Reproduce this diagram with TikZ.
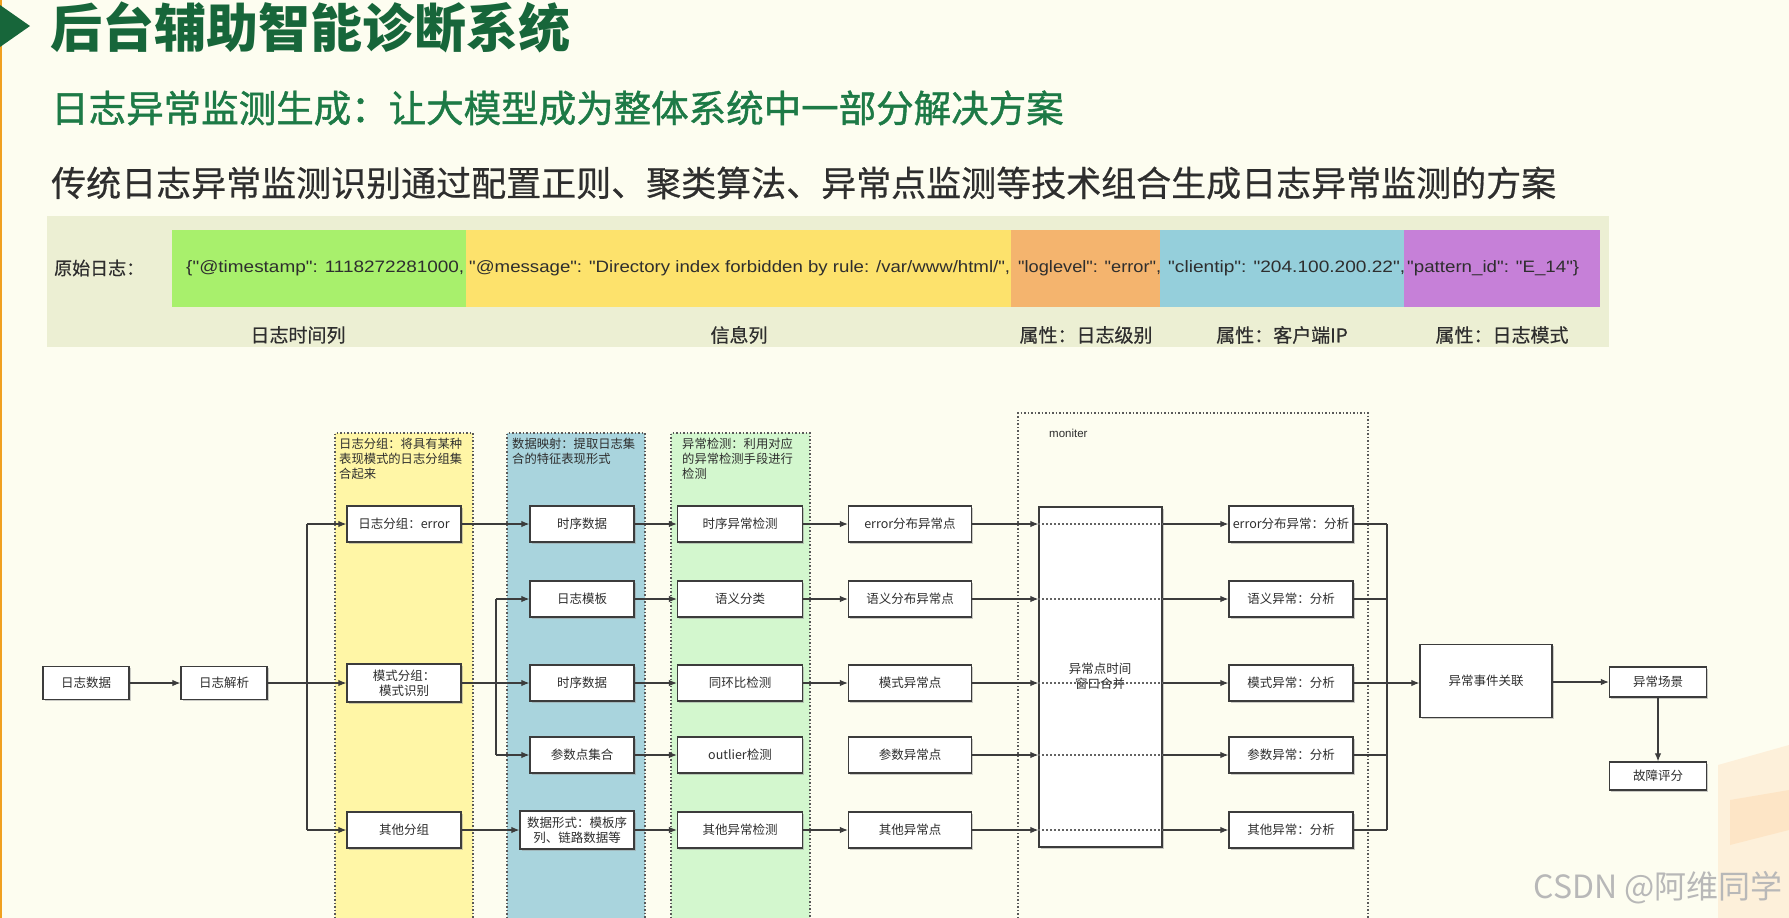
\documentclass[tikz,border=0pt]{standalone}
\usepackage{fontspec}
\usepackage{graphicx}
\setmainfont{Noto Sans CJK SC}
\newfontfamily\cjkmid[FakeBold=1.2]{Noto Sans CJK SC}
\newfontfamily\cjklight[FakeBold=0.5]{Noto Sans CJK SC}
\newfontfamily\jsonfont{Liberation Sans}
\newfontfamily\latinsans{Liberation Sans}
\usetikzlibrary{arrows.meta,shadows}
\definecolor{bg}{HTML}{FDFDF0}
\definecolor{barbg}{HTML}{ECEFD3}
\definecolor{lgreen}{HTML}{A8F06C}
\definecolor{lyellow}{HTML}{FDE26C}
\definecolor{lorange}{HTML}{F4B46E}
\definecolor{lblue}{HTML}{95CFDB}
\definecolor{lpurple}{HTML}{C680D8}
\definecolor{titlegreen}{HTML}{17663A}
\definecolor{subgreen}{HTML}{1D7A46}
\definecolor{darktext}{HTML}{2E2E2E}
\definecolor{colyellow}{HTML}{FFF6A6}
\definecolor{colblue}{HTML}{A9D4DD}
\definecolor{colgreen}{HTML}{D3F7CE}
\definecolor{linec}{HTML}{3C3C3C}
\definecolor{edgeorange}{HTML}{F0A020}
\begin{document}
\begin{tikzpicture}[x=1pt,y=-1pt,
  nodefont/.style={font=\fontsize{12.5}{15}\selectfont},
  box/.style={draw=linec, line width=1.3pt, fill=white, inner sep=0pt, align=center,
    nodefont, text=darktext, minimum height=36pt,
    drop shadow={shadow xshift=1.5pt, shadow yshift=-1.5pt, fill=black!40, opacity=0.5}},
  gw/.style={minimum width=114pt},
  bw/.style={minimum width=104pt},
  cw/.style={minimum width=125pt},
  pw/.style={minimum width=123pt},
  aw/.style={minimum width=124pt},
  arr/.style={draw=linec, line width=1.1pt, -{Latex[length=8pt,width=6.5pt]}},
  ln/.style={draw=linec, line width=1.1pt},
  dotln/.style={draw=linec!80, line width=1.1pt, dash pattern=on 1.5pt off 2.5pt},
  colborder/.style={draw=linec!85, line width=1.2pt, dash pattern=on 1.5pt off 2pt},
  coltext/.style={anchor=north west, inner sep=0pt, align=left, text=darktext,
    font=\fontsize{12.3}{15}\selectfont},
  barlabel/.style={text=darktext, font=\cjklight\fontsize{19}{22}\selectfont, inner sep=0pt}
]
\useasboundingbox (0,0) rectangle (1789,918);
\fill[bg] (0,0) rectangle (1789,918);
\fill[edgeorange] (0,0) rectangle (2,918);
% decoration bottom right
\fill[orange!30, opacity=0.35] (1718,765) -- (1789,745) -- (1789,918) -- (1718,918) -- cycle;
\fill[orange!45, opacity=0.25] (1730,800) -- (1789,790) -- (1789,830) -- (1730,845) -- cycle;

% title
\fill[titlegreen] (0,5) -- (30,26) -- (0,47) -- cycle;
\node[anchor=west, inner sep=0pt, text=titlegreen, font=\fontsize{52}{60}\selectfont\bfseries] (title) at (50,27) {后台辅助智能诊断系统};
\node[anchor=west, inner sep=0pt, text=subgreen, font=\cjkmid\fontsize{37.5}{44}\selectfont] (sub) at (51,108) {日志异常监测生成：让大模型成为整体系统中一部分解决方案};
\node[anchor=west, inner sep=0pt, text=darktext, font=\cjklight\fontsize{35}{42}\selectfont] (line3) at (51,183) {传统日志异常监测识别通过配置正则、聚类算法、异常点监测等技术组合生成日志异常监测的方案};

% log bar
\fill[barbg] (47,216) rectangle (1609,347);
\fill[lgreen] (172,230) rectangle (466,307);
\fill[lyellow] (466,230) rectangle (1011,307);
\fill[lorange] (1011,230) rectangle (1160,307);
\fill[lblue] (1160,230) rectangle (1404,307);
\fill[lpurple] (1404,230) rectangle (1600,307);
\node[anchor=west, text=darktext, font=\cjklight\fontsize{18}{21}\selectfont, inner sep=0pt] (raw) at (54,268) {原始日志：};
\node[anchor=west, inner sep=0pt, text=darktext] (j1) at (186,268) {\resizebox{278pt}{\height}{\jsonfont\fontsize{16.5}{19}\selectfont \{"@timestamp": 1118272281000,}};
\node[anchor=west, inner sep=0pt, text=darktext] (j2) at (469,268) {\resizebox{541pt}{\height}{\jsonfont\fontsize{16.5}{19}\selectfont "@message": "Directory index forbidden by rule: /var/www/html/",}};
\node[anchor=west, inner sep=0pt, text=darktext] (j3) at (1018,268) {\resizebox{143pt}{\height}{\jsonfont\fontsize{16.5}{19}\selectfont "loglevel": "error",}};
\node[anchor=west, inner sep=0pt, text=darktext] (j4) at (1168,268) {\resizebox{237pt}{\height}{\jsonfont\fontsize{16.5}{19}\selectfont "clientip": "204.100.200.22",}};
\node[anchor=west, inner sep=0pt, text=darktext] (j5) at (1407,268) {\resizebox{172pt}{\height}{\jsonfont\fontsize{16.5}{19}\selectfont "pattern\_id": "E\_14"\}}};
\node[barlabel] (l1) at (298,335) {日志时间列};
\node[barlabel] (l2) at (739,335) {信息列};
\node[barlabel] (l3) at (1086,335) {属性：日志级别};
\node[barlabel] (l4) at (1282,335) {属性：客户端IP};
\node[barlabel] (l5) at (1502,335) {属性：日志模式};

% columns
\fill[colyellow] (335,433) rectangle (473,918);
\draw[colborder] (335,918) -- (335,433) -- (473,433) -- (473,918);
\fill[colblue] (507,433) rectangle (645,918);
\draw[colborder] (507,918) -- (507,433) -- (645,433) -- (645,918);
\fill[colgreen] (671,433) rectangle (810,918);
\draw[colborder] (671,918) -- (671,433) -- (810,433) -- (810,918);
\draw[colborder] (1018,918) -- (1018,413) -- (1368,413) -- (1368,918);
\node[coltext] (t1) at (339,438) {日志分组：将具有某种\\表现模式的日志分组集\\合起来};
\node[coltext] (t2) at (512,438) {数据映射：提取日志集\\合的特征表现形式};
\node[coltext] (t3) at (682,438) {异常检测：利用对应\\的异常检测手段进行\\检测};
\node[anchor=west, inner sep=0pt, text=darktext, font=\latinsans\fontsize{11.5}{13}\selectfont] (mon) at (1049,433) {moniter};

% nodes
\node[box, minimum width=86pt, minimum height=33pt] (d) at (86,683) {日志数据};
\node[box, minimum width=86pt, minimum height=33pt] (p) at (224,683) {日志解析};
\node[box, gw] (g1) at (404,524) {日志分组：error};
\node[box, gw, minimum height=38pt] (g2) at (404,683) {模式分组：\\模式识别};
\node[box, gw] (g3) at (404,830) {其他分组};

\node[box, bw] (b1) at (582,524) {时序数据};
\node[box, bw] (b2) at (582,599) {日志模板};
\node[box, bw] (b3) at (582,683) {时序数据};
\node[box, bw] (b4) at (582,755) {参数点集合};
\node[box, minimum width=114pt, minimum height=38pt] (b5) at (577,830) {数据形式：模板序\\列、链路数据等};

\node[box, cw] (c1) at (740,524) {时序异常检测};
\node[box, cw] (c2) at (740,599) {语义分类};
\node[box, cw] (c3) at (740,683) {同环比检测};
\node[box, cw] (c4) at (740,755) {outlier检测};
\node[box, cw] (c5) at (740,830) {其他异常检测};

\node[box, pw] (q1) at (910,524) {error分布异常点};
\node[box, pw] (q2) at (910,599) {语义分布异常点};
\node[box, pw] (q3) at (910,683) {模式异常点};
\node[box, pw] (q4) at (910,755) {参数异常点};
\node[box, pw] (q5) at (910,830) {其他异常点};

\node[box, minimum width=123pt, minimum height=340pt] (M) at (1100.5,677) {};
\node[inner sep=0pt, align=center, nodefont, text=darktext] (Mt) at (1100,676) {异常点时间\\窗口合并};

\node[box, aw] (a1) at (1291,524) {error分布异常：分析};
\node[box, aw] (a2) at (1291,599) {语义异常：分析};
\node[box, aw] (a3) at (1291,683) {模式异常：分析};
\node[box, aw] (a4) at (1291,755) {参数异常：分析};
\node[box, aw] (a5) at (1291,830) {其他异常：分析};

\node[box, minimum width=132pt, minimum height=73pt] (E) at (1486,681) {异常事件关联};
\node[box, minimum width=97pt, minimum height=30pt] (S) at (1658,682) {异常场景};
\node[box, minimum width=97pt, minimum height=28pt] (F) at (1658,776) {故障评分};

% connectors
\coordinate (br1) at (307,0);
\coordinate (br2) at (496,0);
\coordinate (mx) at (1387,0);
\draw[arr] (d.east) -- (p.west);
\draw[arr] (p.east) -- (g2.west);
\draw[ln] (br1 |- g1) -- (br1 |- g3);
\draw[arr] (br1 |- g1) -- (g1.west);
\draw[arr] (br1 |- g3) -- (g3.west);

\draw[arr] (g1.east) -- (b1.west);
\draw[arr] (g2.east) -- (b3.west);
\draw[ln] (br2 |- b2) -- (br2 |- b4);
\draw[arr] (br2 |- b2) -- (b2.west);
\draw[arr] (br2 |- b4) -- (b4.west);
\draw[arr] (g3.east) -- (b5.west);

\foreach \i in {1,...,5} { \draw[arr] (b\i.east) -- (c\i.west); }
\foreach \i in {1,2,3,5} { \draw[arr] (c\i.east) -- (q\i.west); }
\foreach \i in {1,...,5} {
  \draw[arr] (q\i.east) -- (M.west |- q\i);
  \draw[dotln] (M.west |- q\i) -- (M.east |- q\i);
  \draw[arr] (M.east |- q\i) -- (a\i.west);
  \draw[ln] (a\i.east) -- (mx |- a\i);
}
\draw[ln] (mx |- a1) -- (mx |- a5);
\draw[arr] (a3.east) -- (E.west |- a3);
\draw[arr] (E.east |- S) -- (S.west);
\draw[arr] (S.south) -- (F.north);

% watermark
\node[anchor=east, inner sep=0pt, text=black!28, font=\fontsize{32}{36}\selectfont] (wm) at (1783,888) {CSDN @阿维同学};
\end{tikzpicture}
\end{document}
